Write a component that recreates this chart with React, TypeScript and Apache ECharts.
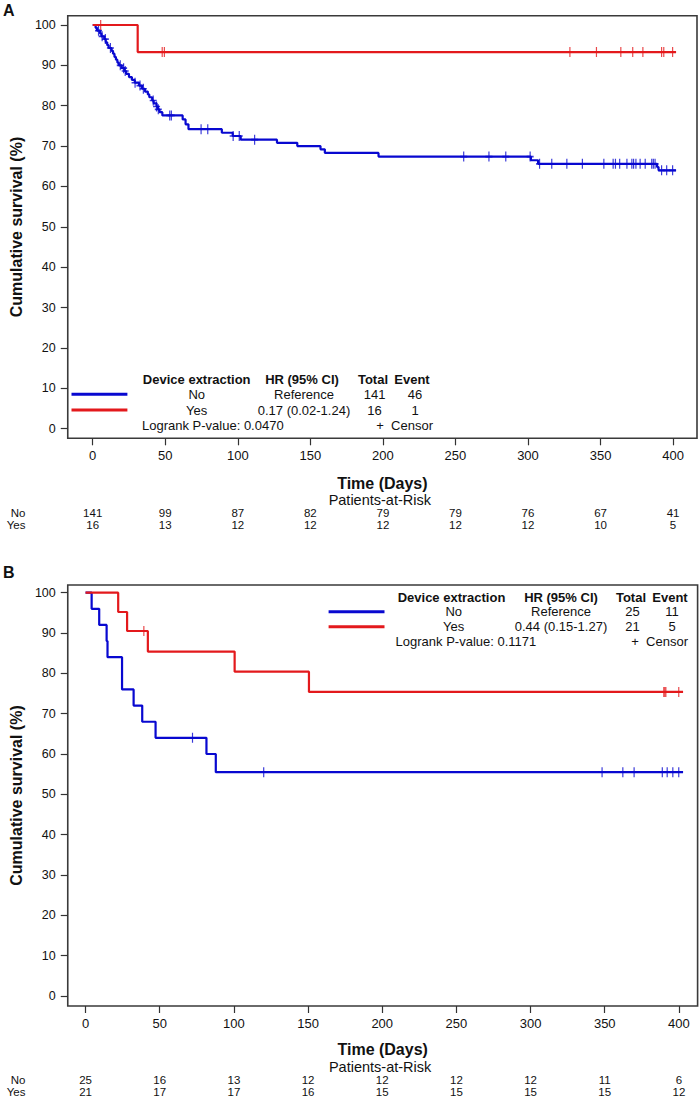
import React, { useEffect, useRef } from "react";
import * as echarts from "echarts";

// ---------- data ----------
const xTicks = [0, 50, 100, 150, 200, 250, 300, 350, 400];
const yTicks = [0, 10, 20, 30, 40, 50, 60, 70, 80, 90, 100];
const riskTimes = [0, 50, 100, 150, 200, 250, 300, 350, 400];

const riskA_No = [141, 99, 87, 82, 79, 79, 76, 67, 41];
const riskA_Yes = [16, 13, 12, 12, 12, 12, 12, 10, 5];
const riskB_No = [25, 16, 13, 12, 12, 12, 12, 11, 6];
const riskB_Yes = [21, 17, 17, 16, 15, 15, 15, 15, 12];

// Kaplan-Meier steps [day, survival % after that day]
const stepsA_No: number[][] = [
  [0, 100], [2, 99.3], [3, 98.6], [5, 97.9], [6, 97.2], [8, 96.5], [9, 95.7], [10, 95.0],
  [11, 94.3], [13, 93.6], [14, 92.9], [15, 92.1], [16, 91.4], [17, 90.7], [18, 90.0],
  [20, 89.3], [22, 88.6], [23, 87.9], [25, 87.1], [27, 86.4], [29, 85.7], [32, 85.0],
  [34, 84.2], [36, 83.5], [38, 82.8], [39, 82.1], [41, 81.3], [42, 80.6], [44, 79.8],
  [45, 79.1], [46, 78.4], [48, 77.6], [62, 76.6], [64, 75.4], [66, 74.2], [89, 73.3],
  [96.5, 72.5], [102, 71.6], [127, 70.8], [141, 70.0], [157, 69.2], [160, 68.3],
  [197, 67.4], [302, 66.5], [307, 65.6], [389, 64.8], [390, 64.0], [402, 64.0],
];
const censA_No = [
  4, 6.5, 8.7, 12.2, 19, 21.3, 22.4, 29.2, 32.6, 34.9, 41.7, 44, 45.2, 53.1, 54.2,
  74.7, 79.3, 96.8, 101, 111.6, 255.7, 273.1, 284.7, 301.5, 308, 316.4, 326.8, 337.5,
  352.3, 358.7, 360.3, 363.2, 368.2, 371.6, 372.8, 374.4, 377.3, 380.8, 385.3, 386.4,
  387.6, 392.1, 395.6, 399.7,
];
const stepsA_Yes: number[][] = [[0, 100], [31, 93.3], [402, 93.3]];
const censA_Yes = [5.5, 47.9, 49.4, 328.9, 347.2, 364, 372.2, 379.2, 392.1, 393.6, 399.7];

const stepsB_No: number[][] = [
  [0, 100], [4.1, 96], [9.2, 92], [14.2, 88], [14.8, 84], [24.6, 76], [32.4, 72],
  [38.2, 68], [47.2, 64], [81.5, 60], [87.8, 55.5], [402.8, 55.5],
];
const censB_No = [72.1, 120.1, 348.2, 362.2, 369.8, 388.8, 392.1, 395.9, 399.9];
const stepsB_Yes: number[][] = [
  [0, 100], [22, 95.2], [28, 90.5], [42, 85.4], [100.5, 80.4], [150.6, 75.4], [402.8, 75.4],
];
const censB_Yes = [39.3, 389.8, 390.5, 391.2, 399.9];

const legendHeader = ["Device extraction", "HR (95% CI)", "Total", "Event"];
const groupNames = ["No", "Yes"];
const hrA = ["Reference", "0.17 (0.02-1.24)"];
const totalA = [141, 16];
const eventA = [46, 1];
const pValueA = "0.0470";
const hrB = ["Reference", "0.44 (0.15-1.27)"];
const totalB = [25, 21];
const eventB = [11, 5];
const pValueB = "0.1171";

// ---------- style ----------
const BLUE = "#0808d0";
const RED = "#e3191c";
const FONT = "'Liberation Sans', Arial, sans-serif";
const TXT = "#111";

function stepAt(steps: number[][], t: number) {
  let v = steps[0][1];
  for (const [x, y] of steps) {
    if (x <= t) v = y;
    else break;
  }
  return v;
}

const panels = [
  {
    label: "A", labelY: 10, nameGap: 37,
    grid: { left: 62.6, top: 15.7, width: 634.4, height: 422.6 },
    xMin: -17.2, xMax: 416.5, yMin: -2.38, yMax: 102.3,
    no: stepsA_No, yes: stepsA_Yes, cNo: censA_No, cYes: censA_Yes,
    riskNo: riskA_No, riskYes: riskA_Yes,
    hr: hrA, total: totalA, event: eventA, p: pValueA,
    lg: {
      lineX: [71.5, 127.4], headerY: 379.3, rowY: [394.3, 410], pY: 425.7,
      headX: [196.7, 302, 373, 412], rowX: [196.7, 304, 374.6, 415], pX: 142, censorRight: 433,
    },
    rows: { par: 500, no: 512.6, yes: 524.6 },
  },
  {
    label: "B", labelY: 572, nameGap: 35.5,
    grid: { left: 62.6, top: 585, width: 635, height: 421 },
    xMin: -12, xMax: 412.6, yMin: -2.48, yMax: 101.9,
    no: stepsB_No, yes: stepsB_Yes, cNo: censB_No, cYes: censB_Yes,
    riskNo: riskB_No, riskYes: riskB_Yes,
    hr: hrB, total: totalB, event: eventB, p: pValueB,
    lg: {
      lineX: [328.6, 384.5], headerY: 597.3, rowY: [611.7, 626.7], pY: 641.7,
      headX: [451.5, 561, 631, 670], rowX: [453.7, 561, 632.5, 672], pX: 395.6, censorRight: 688,
    },
    rows: { par: 1066.5, no: 1080.3, yes: 1092.2 },
  },
];

const PLUS = "path://M5,0L5,10M0,5L10,5";

function buildOption() {
  const grid: any[] = [];
  const xAxis: any[] = [];
  const yAxis: any[] = [];
  const series: any[] = [];
  panels.forEach((p, i) => {
    grid.push({
      ...p.grid, show: true, borderColor: "#3a3a3a", borderWidth: 1.6,
      backgroundColor: "transparent", containLabel: false,
    });
    xAxis.push({
      type: "value", gridIndex: i, min: p.xMin, max: p.xMax, position: "bottom",
      axisLine: { show: false, onZero: false },
      splitLine: { show: false },
      axisTick: { show: true, customValues: xTicks, length: 7, lineStyle: { color: "#333", width: 1.2 } },
      axisLabel: { customValues: xTicks, margin: 11, fontFamily: FONT, fontSize: 13, color: TXT },
      name: "Time (Days)", nameLocation: "middle", nameGap: p.nameGap,
      nameTextStyle: { fontFamily: FONT, fontSize: 16, fontWeight: "bold", color: TXT },
    });
    yAxis.push({
      type: "value", gridIndex: i, min: p.yMin, max: p.yMax, position: "left",
      axisLine: { show: false, onZero: false },
      splitLine: { show: false },
      axisTick: { show: true, customValues: yTicks, length: 7, lineStyle: { color: "#333", width: 1.2 } },
      axisLabel: { customValues: yTicks, margin: 12, fontFamily: FONT, fontSize: 12.5, color: TXT },
      name: "Cumulative survival (%)", nameLocation: "middle", nameGap: 32, nameRotate: 90,
      nameTextStyle: { fontFamily: FONT, fontSize: 16, fontWeight: "bold", color: TXT },
    });
    const lineS = (data: number[][], color: string) => ({
      type: "line", xAxisIndex: i, yAxisIndex: i, data, step: "end", symbol: "none",
      lineStyle: { color, width: 2.2 }, silent: true, z: 3,
    });
    const cens = (times: number[], steps: number[][], color: string) => ({
      type: "scatter", xAxisIndex: i, yAxisIndex: i,
      data: times.map((t) => [t, stepAt(steps, t)]),
      symbol: PLUS, symbolSize: [7, 10],
      itemStyle: { color: "transparent", borderColor: color, borderWidth: 1.4 },
      silent: true, z: 4,
    });
    series.push(lineS(p.no, BLUE));
    series.push(cens(p.cNo, p.no, BLUE));
    series.push(lineS(p.yes, RED));
    series.push(cens(p.cYes, p.yes, RED));
  });
  return { animation: false, grid, xAxis, yAxis, series };
}

function txt(x: number, y: number, text: string, align = "center", bold = false, size = 13) {
  return {
    type: "text", x, y, silent: true,
    style: {
      text, x: 0, y: 0, fill: TXT, align, verticalAlign: "middle",
      font: `${bold ? "bold " : ""}${size}px ${FONT}`,
    },
  };
}

export default function App() {
  const ref = useRef<HTMLDivElement>(null);
  useEffect(() => {
    if (!ref.current) return;
    const chart = echarts.init(ref.current, null, { renderer: "svg" });
    chart.setOption(buildOption());
    const g: any[] = [];
    panels.forEach((p, i) => {
      g.push(txt(3, p.labelY, p.label, "left", true, 16));
      const L = p.lg;
      // legend lines
      g.push({ type: "line", silent: true, shape: { x1: L.lineX[0], y1: L.rowY[0], x2: L.lineX[1], y2: L.rowY[0] }, style: { stroke: BLUE, lineWidth: 3 } });
      g.push({ type: "line", silent: true, shape: { x1: L.lineX[0], y1: L.rowY[1], x2: L.lineX[1], y2: L.rowY[1] }, style: { stroke: RED, lineWidth: 3 } });
      legendHeader.forEach((h, k) => g.push(txt(L.headX[k], L.headerY, h, "center", true)));
      groupNames.forEach((gn, r) => {
        g.push(txt(L.rowX[0], L.rowY[r], gn));
        g.push(txt(L.rowX[1], L.rowY[r], p.hr[r]));
        g.push(txt(L.rowX[2], L.rowY[r], String(p.total[r])));
        g.push(txt(L.rowX[3], L.rowY[r], String(p.event[r])));
      });
      g.push(txt(L.pX, L.pY, `Logrank P-value: ${p.p}`, "left"));
      g.push(txt(L.censorRight, L.pY, "+  Censor", "right"));
      // patients at risk
      const cx = p.grid.left + p.grid.width / 2;
      g.push(txt(cx, p.rows.par, "Patients-at-Risk", "center", false, 14.5));
      g.push(txt(25.5, p.rows.no, groupNames[0], "right", false, 11.5));
      g.push(txt(25.5, p.rows.yes, groupNames[1], "right", false, 11.5));
      riskTimes.forEach((t, k) => {
        const x = chart.convertToPixel({ xAxisIndex: i }, t) as unknown as number;
        g.push(txt(x, p.rows.no, String(p.riskNo[k]), "center", false, 11.5));
        g.push(txt(x, p.rows.yes, String(p.riskYes[k]), "center", false, 11.5));
      });
    });
    chart.setOption({ graphic: g });
    return () => chart.dispose();
  }, []);
  return (
    <div
      ref={ref}
      style={{ position: "absolute", left: 0, top: 0, width: 700, height: 1100, background: "#fff" }}
    />
  );
}
